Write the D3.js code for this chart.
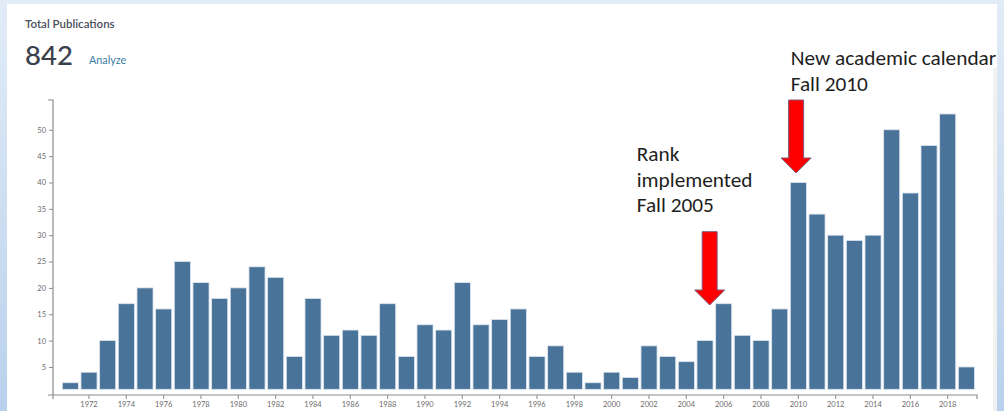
<!DOCTYPE html>
<html>
<head>
<meta charset="utf-8">
<script src="https://cdn.jsdelivr.net/npm/d3@7"></script>
<style>
  html, body { margin: 0; padding: 0; background: #ffffff; overflow: hidden; }
  svg { display: block; }
</style>
</head>
<body>
<svg id="chart" width="1004" height="411"></svg>
<script>
// ---- data ----
const years = [1971,1972,1973,1974,1975,1976,1977,1978,1979,1980,
               1981,1982,1983,1984,1985,1986,1987,1988,1989,1990,
               1991,1992,1993,1994,1995,1996,1997,1998,1999,2000,
               2001,2002,2003,2004,2005,2006,2007,2008,2009,2010,
               2011,2012,2013,2014,2015,2016,2017,2018,2019];
const publications = [2,4,10,17,20,16,25,21,18,20,
                      24,22,7,18,11,12,11,17,7,13,
                      12,21,13,14,16,7,9,4,2,4,
                      3,9,7,6,10,17,11,10,16,40,
                      34,30,29,30,50,38,47,53,5];
const yTicks = [5,10,15,20,25,30,35,40,45,50];
const xTickYears = [1972,1974,1976,1978,1980,1982,1984,1986,1988,1990,1992,1994,1996,1998,2000,2002,2004,2006,2008,2010,2012,2014,2016,2018];
const headerTitle = "Total Publications";
const totalLabel = "842";
const analyzeLabel = "Analyze";
const annotations = [
  { lines: ["Rank", "implemented", "Fall 2005"], year: 2005 },
  { lines: ["New academic calendar", "Fall 2010"], year: 2010 }
];

const svg = d3.select("#chart");
const W = 1004, H = 411;

// ---- page background / panel ----
const defs = svg.append("defs");
const lg = defs.append("linearGradient").attr("id", "bgGrad")
  .attr("x1", 0).attr("y1", 0).attr("x2", 0).attr("y2", 1);
lg.append("stop").attr("offset", "0%").attr("stop-color", "#e2ecf7");
lg.append("stop").attr("offset", "100%").attr("stop-color", "#b9d1ec");
svg.append("rect").attr("x", 0).attr("y", 0).attr("width", W).attr("height", H).attr("fill", "url(#bgGrad)");
const panel = { x: 7, y: 4, w: 990, h: H - 4 };
svg.append("rect").attr("x", panel.x).attr("y", panel.y).attr("width", panel.w).attr("height", panel.h).attr("fill", "#ffffff");
svg.append("rect").attr("x", 993).attr("y", 68).attr("width", 4).attr("height", H - 68).attr("fill", "#f1f1f1");

// ---- header ----
svg.append("text").attr("x", 25).attr("y", 28.3)
  .attr("font-family", "Lato, 'Open Sans', sans-serif").attr("font-size", 11.5).attr("font-weight", 600)
  .attr("fill", "#4a4f5c").text(headerTitle);
svg.append("text").attr("x", 25).attr("y", 65)
  .attr("font-family", "Lato, 'Open Sans', sans-serif").attr("font-size", 27.5).attr("font-weight", 500)
  .attr("fill", "#3a404c").text(totalLabel);
svg.append("text").attr("x", 89).attr("y", 64.3)
  .attr("font-family", "Lato, 'Open Sans', sans-serif").attr("font-size", 10.8)
  .attr("fill", "#3c7a9e").text(analyzeLabel);

// ---- scales ----
const axisX = 53, axisYline = 395;
const x = d3.scaleBand().domain(years).range([61, 975.7]).paddingInner(0.14).paddingOuter(0.07);
const y = d3.scaleLinear().domain([0, 55.65]).range([393.3, 100]);

const gAxisY = svg.append("g").attr("transform", `translate(${axisX},0)`)
  .call(d3.axisLeft(y).tickValues(yTicks).tickSize(4).tickSizeOuter(0));
gAxisY.select(".domain").attr("d", `M-5,${y.range()[1]}H0V${axisYline + 4}`)
  .attr("stroke", "#8c8c8c").attr("stroke-width", 1.2);
gAxisY.selectAll(".tick line").attr("stroke", "#8c8c8c");
gAxisY.selectAll(".tick text").attr("font-family", "Lato, 'DejaVu Sans', sans-serif")
  .attr("font-size", 7.5).attr("fill", "#6a6a6a").attr("x", -7);

const gAxisX = svg.append("g").attr("transform", `translate(0,${axisYline})`)
  .call(d3.axisBottom(x).tickValues(xTickYears).tickSize(4).tickSizeOuter(0));
gAxisX.select(".domain").attr("d", `M${axisX - 5},0H${x.range()[1] + 1.3}V4`)
  .attr("stroke", "#8c8c8c").attr("stroke-width", 1.2).attr("fill", "none");
gAxisX.selectAll(".tick line").attr("stroke", "#8c8c8c");
gAxisX.selectAll(".tick text").attr("font-family", "Lato, 'DejaVu Sans', sans-serif")
  .attr("font-size", 7.5).attr("fill", "#6a6a6a").attr("y", 7);

// ---- bars ----
const barBase = y(0) - 4;
svg.append("g").selectAll("rect").data(years).join("rect")
  .attr("x", d => x(d))
  .attr("y", (d, i) => y(publications[i]))
  .attr("width", x.bandwidth())
  .attr("height", (d, i) => Math.max(0, barBase - y(publications[i])))
  .attr("fill", "#4a7399")
  .attr("stroke", "#dbe4ee").attr("stroke-width", 0.8);

// ---- annotations ----
const annFont = "Carlito, Calibri, 'Open Sans', sans-serif";
function arrow(cx, top, tip) {
  const sw = 7.5, hw = 15, hh = 15;
  return `M${cx - sw},${top}H${cx + sw}V${tip - hh}H${cx + hw}L${cx},${tip}L${cx - hw},${tip - hh}H${cx - sw}Z`;
}
const a1cx = x(2006) - 6;
svg.append("path").attr("d", arrow(a1cx, 231.7, 305))
  .attr("fill", "#ff0000").attr("stroke", "#7b5b7e").attr("stroke-width", 1);
const a2cx = x(2010) + 5.8;
svg.append("path").attr("d", arrow(a2cx, 100, 173))
  .attr("fill", "#ff0000").attr("stroke", "#7b5b7e").attr("stroke-width", 1);

const ann1 = svg.append("text").attr("font-family", annFont).attr("font-size", 21.3).attr("fill", "#1e1e1e");
annotations[0].lines.forEach((t, i) => {
  ann1.append("tspan").attr("x", 636.7).attr("y", 161 + i * 25.5).text(t);
});
const ann2 = svg.append("text").attr("font-family", annFont).attr("font-size", 21.3).attr("fill", "#1e1e1e");
annotations[1].lines.forEach((t, i) => {
  ann2.append("tspan").attr("x", 790.7).attr("y", 65 + i * 25.7).text(t);
});
</script>
</body>
</html>
